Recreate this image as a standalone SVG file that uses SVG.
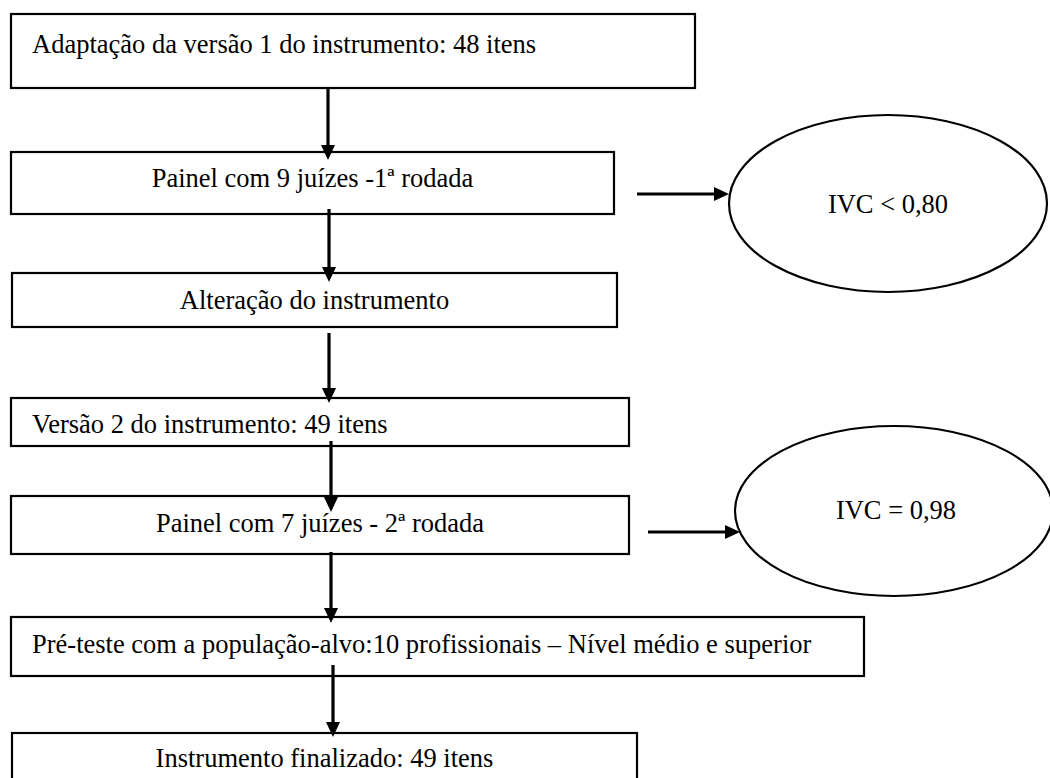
<svg xmlns="http://www.w3.org/2000/svg" width="1050" height="778" viewBox="0 0 1050 778">
  <style>
    .box { fill: #ffffff; stroke: #000000; stroke-width: 2.2; }
    .oval { fill: #ffffff; stroke: #000000; stroke-width: 2.2; }
    .lbl { font-family: "Liberation Serif", "Times New Roman", serif; font-size: 26.5px; fill: #000000; }
    .mid { text-anchor: middle; }
    .link { stroke: #000000; stroke-width: 3.2; fill: none; marker-end: url(#head); }
  </style>
  <defs>
    <marker id="head" markerUnits="userSpaceOnUse" markerWidth="16" markerHeight="15" refX="5" refY="7" orient="auto">
      <path d="M0,0 L15,7 L0,14 Z" fill="#000000"/>
    </marker>
  </defs>

  <rect width="1050" height="778" fill="#ffffff"/>

  <g id="step1">
    <rect class="box" x="11" y="14" width="684" height="74"/>
    <text class="lbl" x="32" y="53">Adaptação da versão 1 do instrumento: 48 itens</text>
  </g>

  <g id="panel1">
    <rect class="box" x="11" y="152" width="603" height="62"/>
    <text class="lbl mid" x="312.5" y="187">Painel com 9 juízes -1ª rodada</text>
  </g>

  <g id="ivc1">
    <ellipse class="oval" cx="888" cy="203.5" rx="159" ry="88.5"/>
    <text class="lbl mid" x="888" y="213">IVC &lt; 0,80</text>
  </g>

  <g id="change">
    <rect class="box" x="12" y="273" width="605" height="54"/>
    <text class="lbl mid" x="314.5" y="309">Alteração do instrumento</text>
  </g>

  <g id="version2">
    <rect class="box" x="11" y="398" width="618" height="48"/>
    <text class="lbl" x="32" y="433">Versão 2 do instrumento: 49 itens</text>
  </g>

  <g id="panel2">
    <rect class="box" x="11" y="496" width="618" height="58"/>
    <text class="lbl mid" x="320" y="532">Painel com 7 juízes - 2ª rodada</text>
  </g>

  <g id="ivc2">
    <ellipse class="oval" cx="894" cy="511" rx="159" ry="85"/>
    <text class="lbl mid" x="896" y="519">IVC = 0,98</text>
  </g>

  <g id="pretest">
    <rect class="box" x="11" y="617" width="853" height="59"/>
    <text class="lbl" x="32" y="653">Pré-teste com a população-alvo:10 profissionais – Nível médio e superior</text>
  </g>

  <g id="final">
    <rect class="box" x="12" y="733" width="625" height="50"/>
    <text class="lbl mid" x="324.5" y="767">Instrumento finalizado: 49 itens</text>
  </g>

  <g id="connectors">
    <line class="link" x1="328" y1="88" x2="328" y2="150"/>
    <line class="link" x1="329" y1="209" x2="329" y2="272"/>
    <line class="link" x1="329" y1="333" x2="329" y2="393"/>
    <line class="link" x1="331" y1="441" x2="331" y2="502"/>
    <line class="link" x1="331" y1="552" x2="331" y2="613"/>
    <line class="link" x1="333" y1="665" x2="333" y2="727"/>
    <line class="link" x1="637" y1="194" x2="719" y2="194"/>
    <line class="link" x1="648" y1="532" x2="730" y2="532"/>
  </g>
</svg>
